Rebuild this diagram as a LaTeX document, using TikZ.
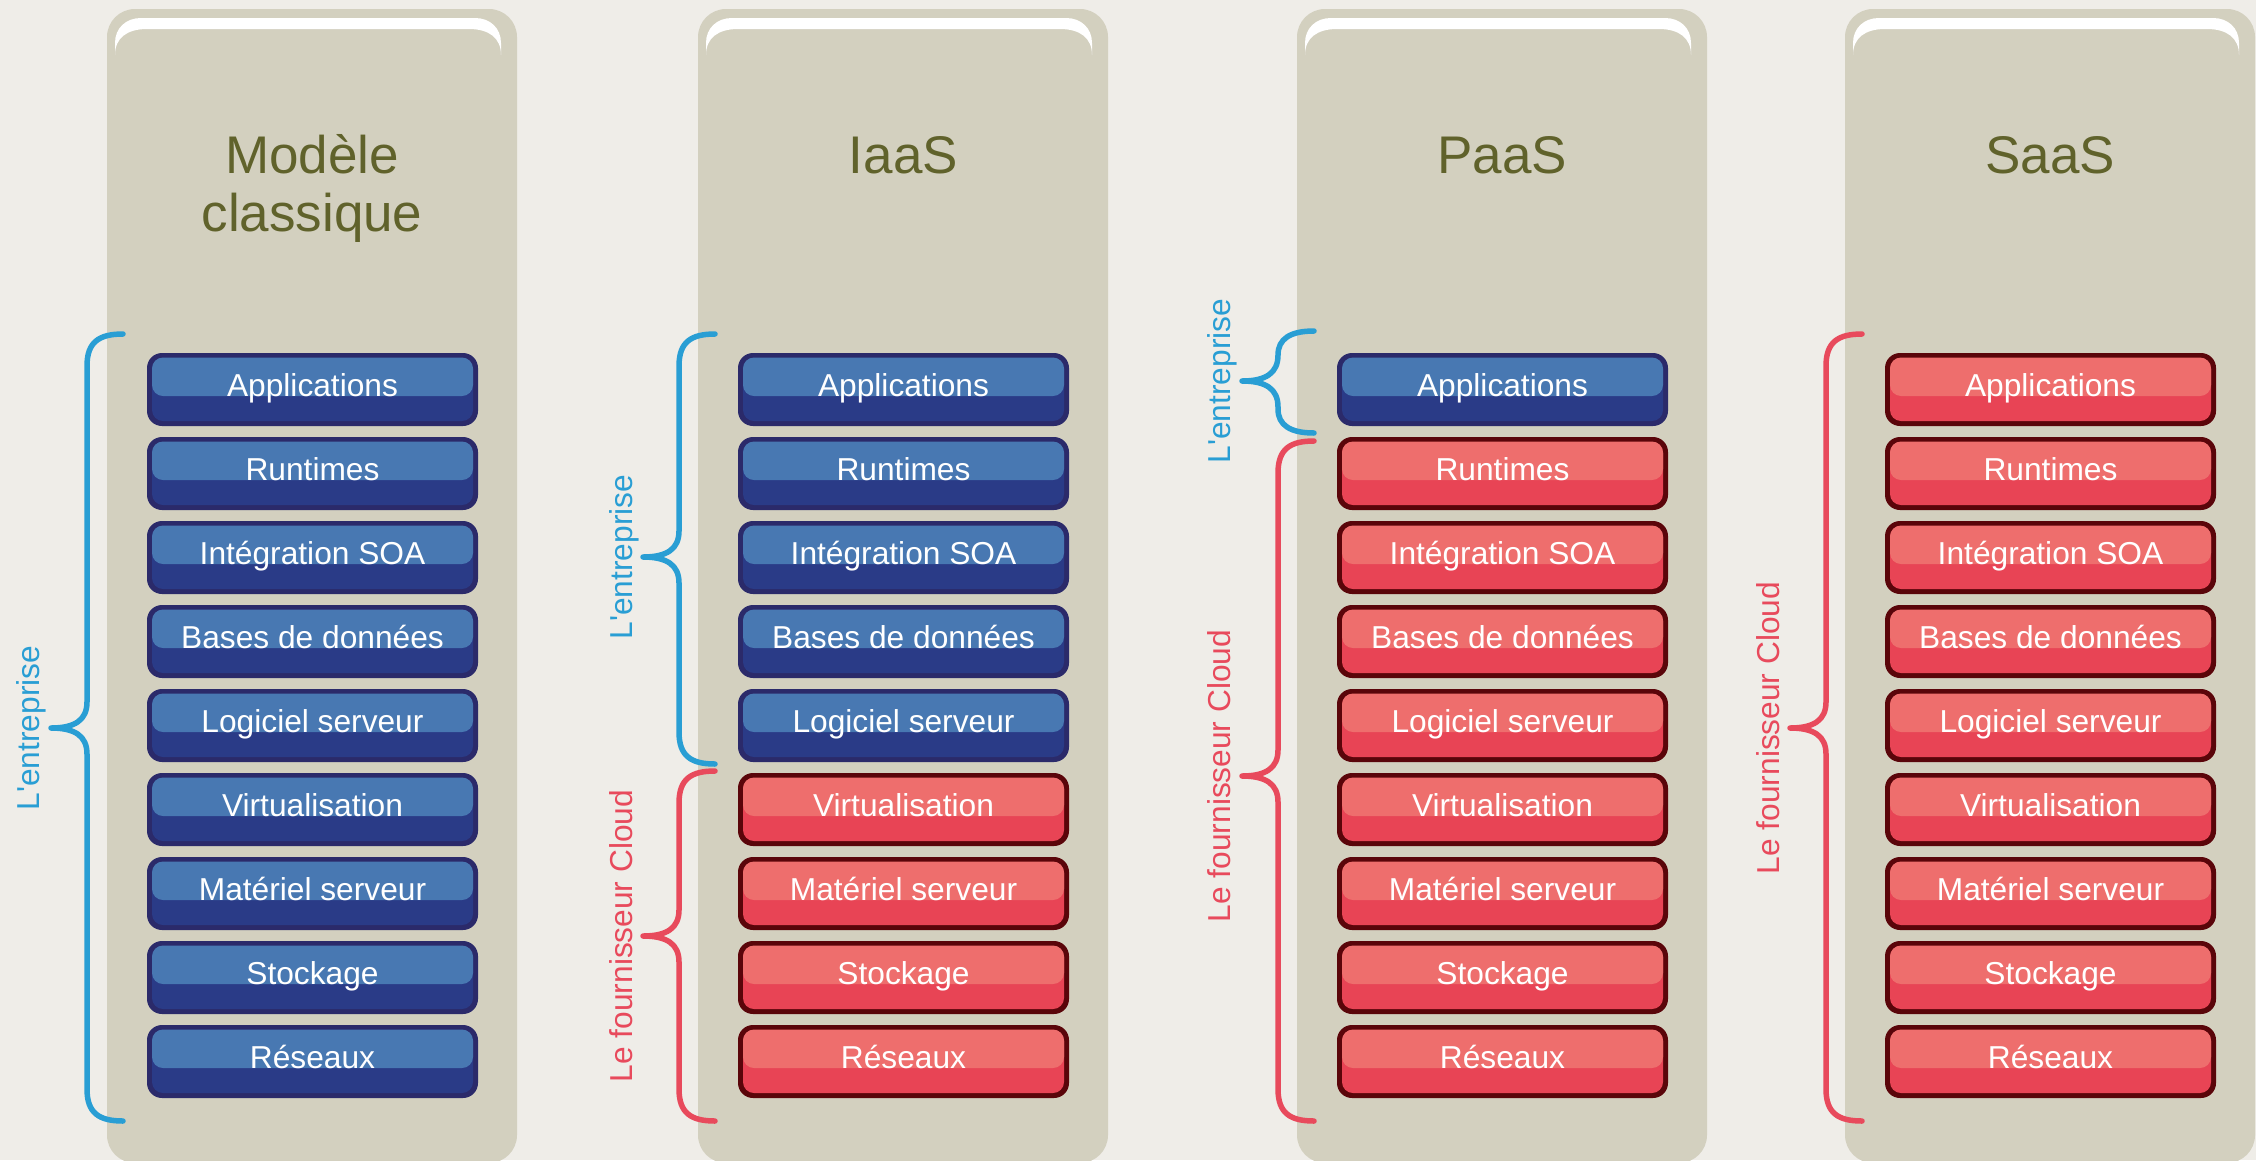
\documentclass[tikz,border=0pt]{standalone}
\usepackage{fontspec}
\setmainfont{Liberation Sans}
\definecolor{bg}{RGB}{239,237,232}
\definecolor{panel}{RGB}{211,208,191}
\definecolor{titlec}{RGB}{96,98,43}
\definecolor{bluedark}{RGB}{43,42,106}
\definecolor{bluelow}{RGB}{42,59,135}
\definecolor{blueup}{RGB}{72,120,178}
\definecolor{reddark}{RGB}{90,5,10}
\definecolor{redlow}{RGB}{232,68,85}
\definecolor{redup}{RGB}{238,110,109}
\definecolor{braceblue}{RGB}{41,158,212}
\definecolor{bracered}{RGB}{232,74,92}
\tikzset{
  boxtext/.style={anchor=base, text=white, font=\fontsize{31.7}{36}\selectfont, inner sep=0pt},
  titletext/.style={text=titlec, font=\fontsize{53}{58}\selectfont, align=center, inner sep=0pt},
  bracelabel/.style={rotate=90, anchor=base, font=\fontsize{31.7}{36}\selectfont, inner sep=0pt},
  bracestroke/.style={line width=5.5pt, line cap=round, line join=round},
  panelbox/.style={fill=panel, rounded corners=28pt},
  highlight/.style={fill=white},
}
\newcommand\layerbox[4]{%
  \fill[cdark, rounded corners=15pt] (#2,#3) rectangle ++(331,73);
  \fill[clow, rounded corners=11pt] (#2+5,#3+5) rectangle ++(321,63);
  \fill[cup, rounded corners=11pt] (#2+5,#3+4.5) rectangle ++(321,38.5);
  \node[boxtext] (#1) at (#2+165.5,#3+43) {#4};
}
\newcommand\panelshape[1]{%
  \fill[panelbox] (#1,9) rectangle ++(410,1154);
  \fill[highlight] (#1+8,55) -- (#1+8,43) .. controls (#1+8,28) and (#1+19,18) .. (#1+34,18)
    -- (#1+368,18) .. controls (#1+383,18) and (#1+394,28) .. (#1+394,43) -- (#1+394,55)
    .. controls (#1+394,38) and (#1+382,29) .. (#1+362,29) -- (#1+40,29)
    .. controls (#1+20,29) and (#1+8,38) .. (#1+8,55) -- cycle;
}
\newcommand\curlybrace[7]{%
  \draw[#1, bracestroke] (#2+36,#3) .. controls (#2+12,#3) and (#2,#3+8) .. (#2,#3+#6)
    -- (#2,#4-#7) .. controls (#2,#4-8) and (#2-12,#4) .. (#2-36,#4)
    .. controls (#2-12,#4) and (#2,#4+8) .. (#2,#4+#7)
    -- (#2,#5-#6) .. controls (#2,#5-8) and (#2+12,#5) .. (#2+36,#5);
}
\begin{document}
\begin{tikzpicture}[x=1pt,y=-1pt]
\useasboundingbox (0,0) rectangle (2256,1160);
\fill[bg] (0,0) rectangle (2256,1160);
\clip (0,0) rectangle (2256,1160);
\foreach \p/\px/\thr in {1/107/9, 2/698/5, 3/1297/1, 4/1845/0} {
  \panelshape{\px}
  \foreach \t [count=\i from 0] in {Applications,Runtimes,Intégration SOA,Bases de données,Logiciel serveur,Virtualisation,Matériel serveur,Stockage,Réseaux} {
    \ifnum\i<\thr
      \colorlet{cdark}{bluedark}\colorlet{clow}{bluelow}\colorlet{cup}{blueup}%
    \else
      \colorlet{cdark}{reddark}\colorlet{clow}{redlow}\colorlet{cup}{redup}%
    \fi
    \pgfmathsetmacro\ty{353+84*\i}
    \layerbox{p\p b\i}{\px+40}{\ty}{\t}
  }
}
\node[titletext, anchor=base] (t1) at (312,231) {Modèle\\classique};
\node[titletext, anchor=base] (t2) at (903.5,173) {IaaS};
\node[titletext, anchor=base] (t3) at (1502,173) {PaaS};
\node[titletext, anchor=base] (t4) at (2050,173) {SaaS};
% braces
\curlybrace{braceblue}{87}{334}{728}{1121}{32}{26}
\curlybrace{braceblue}{679}{334}{557}{764}{32}{26}
\curlybrace{bracered}{679}{771}{936}{1121}{32}{26}
\curlybrace{braceblue}{1278}{331}{381}{433}{24}{26}
\curlybrace{bracered}{1278}{441}{776}{1121}{32}{26}
\curlybrace{bracered}{1826}{334}{728}{1121}{32}{26}
% labels
\node[bracelabel, text=braceblue] (l1) at (39,728) {L\textquotesingle entreprise};
\node[bracelabel, text=braceblue] (l2) at (632,557) {L\textquotesingle entreprise};
\node[bracelabel, text=bracered] (l3) at (632,936) {Le fournisseur Cloud};
\node[bracelabel, text=braceblue] (l4) at (1230,381) {L\textquotesingle entreprise};
\node[bracelabel, text=bracered] (l5) at (1230,776) {Le fournisseur Cloud};
\node[bracelabel, text=bracered] (l6) at (1779,728) {Le fournisseur Cloud};
\end{tikzpicture}
\end{document}
